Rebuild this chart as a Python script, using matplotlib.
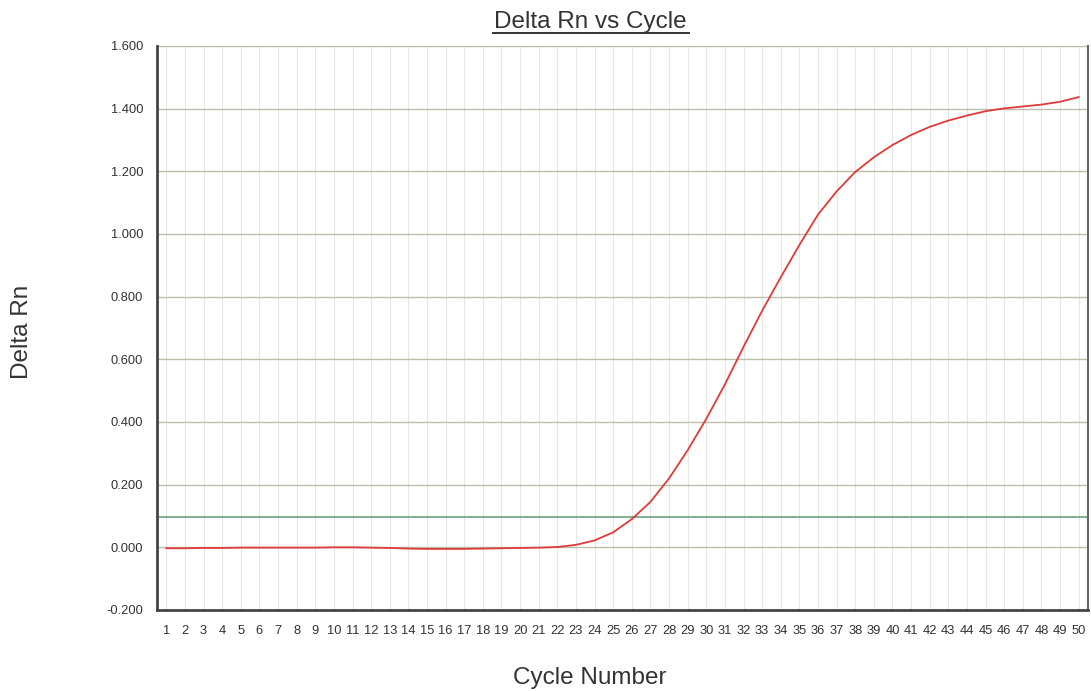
import matplotlib
matplotlib.use("Agg")
import matplotlib.pyplot as plt
import numpy as np

cycles = list(range(1, 51))
delta_rn = [
    -0.003, -0.003, -0.002, -0.002, -0.001, -0.001, -0.001, -0.001, -0.001, 0.000,
    0.000, -0.001, -0.002, -0.004, -0.005, -0.005, -0.005, -0.004, -0.003, -0.002,
    -0.001, 0.001, 0.008, 0.022, 0.048, 0.090, 0.145, 0.220, 0.310, 0.410,
    0.520, 0.640, 0.755, 0.862, 0.965, 1.062, 1.136, 1.198, 1.245, 1.284,
    1.316, 1.342, 1.362, 1.378, 1.392, 1.401, 1.407, 1.413, 1.422, 1.437,
]
threshold = 0.097
y_ticks = [-0.2, 0.0, 0.2, 0.4, 0.6, 0.8, 1.0, 1.2, 1.4, 1.6]

plt.rcParams['font.family'] = ['Liberation Sans', 'DejaVu Sans']

fig = plt.figure(figsize=(10.91, 6.91), dpi=100)
ax = fig.add_axes([157/1091, 1 - 610/691, (1088 - 157)/1091, (610 - 46)/691])

ax.set_xlim(0.5, 50.5)
ax.set_ylim(-0.2, 1.6)

# grid
for c in cycles:
    ax.axvline(c, color='#e6e6e6', lw=0.8, zorder=1)
for yv in y_ticks[1:]:
    ax.axhline(yv, color='#bdbdac', lw=1.0, zorder=1)

ax.axhline(threshold, color='#5f9a6e', lw=1.1, zorder=2)
ax.plot(cycles, delta_rn, color='#e03a3a', lw=1.3, zorder=3)

ax.set_xticks(cycles)
ax.set_xticklabels([str(c) for c in cycles])
ax.set_yticks(y_ticks)
ax.set_yticklabels([f"{v:.3f}" for v in y_ticks])
ax.tick_params(axis='both', length=0, labelsize=9.3, colors='#333333')
ax.tick_params(axis='y', pad=10)
ax.tick_params(axis='x', pad=11)

ax.spines['top'].set_visible(False)
ax.spines['left'].set_color('#444444')
ax.spines['left'].set_linewidth(2.0)
ax.spines['bottom'].set_color('#444444')
ax.spines['bottom'].set_linewidth(2.0)
ax.spines['right'].set_color('#666666')
ax.spines['right'].set_linewidth(1.5)

fig.text(590/1091, 1 - 22/691, "Delta Rn vs Cycle", ha='center', va='center',
         fontsize=17.5, color='#333333')
# underline
fig.add_artist(plt.Line2D([493/1091, 689/1091], [1 - 33/691, 1 - 33/691],
                          color='#333333', lw=1.4, transform=fig.transFigure))
fig.text(22/1091, 1 - 332/691, "Delta Rn", ha='center', va='center',
         rotation=90, fontsize=17.5, color='#333333')
fig.text(590/1091, 1 - 678/691, "Cycle Number", ha='center', va='center',
         fontsize=17.5, color='#333333')

fig.savefig("out.png", dpi=100, facecolor='white')
